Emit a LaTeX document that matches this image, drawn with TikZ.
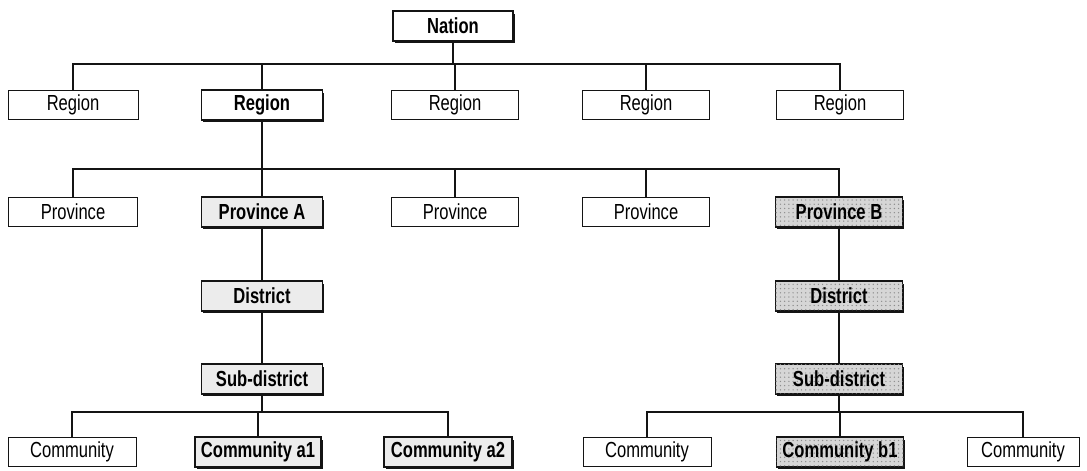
\documentclass[tikz,border=0pt]{standalone}
\usepackage{fontspec}
\setmainfont{Liberation Sans}[FakeStretch=0.76]
\usetikzlibrary{shadows,patterns}
\definecolor{ink}{RGB}{20,20,20}
\definecolor{haze}{RGB}{236,236,236}
\definecolor{stipple}{RGB}{214,214,214}
\tikzset{
  unit box/.style={draw=ink,fill=white,line width=0.7pt,
    minimum width=#1*0.025cm,minimum height=0.73cm,inner sep=1pt,
    font=\fontsize{15.5}{17}\selectfont},
  unit box/.default=127,
  key box/.style={unit box=#1,line width=1.3pt,font=\fontsize{15.5}{17}\selectfont\bfseries,
    drop shadow={shadow xshift=1.3pt,shadow yshift=-1.6pt,fill=ink,opacity=1}},
  key box/.default=121,
  a box/.style={key box=#1,fill=haze},
  a box/.default=121,
  b box/.style={key box=#1,fill=stipple,postaction={pattern=dots,pattern color=gray!90}},
  b box/.default=127,
  link/.style={draw=ink,line width=0.75pt},
}

\begin{document}
\begin{tikzpicture}[x=0.025cm,y=-0.025cm]
  \useasboundingbox (0,0) rectangle (1087,470);
  % bus levels
  \coordinate (bus1) at (0,64);
  \coordinate (bus2) at (0,169);
  \coordinate (bus3) at (0,412);

  % nation and regions
  \node[key box=120] (nation) at (453,26) {Nation};
  \node[unit box=130] (r1) at (73,105) {Region};
  \node[key box] (r2) at (262,105) {Region};
  \node[unit box] (r3) at (455,105) {Region};
  \node[unit box] (r4) at (646,105) {Region};
  \node[unit box] (r5) at (840,105) {Region};
  \foreach \c in {r1,r2,r3,r4,r5}
    \draw[link] (nation.south) -- (nation.south |- bus1) -| (\c.north);

  % provinces
  \node[unit box=129] (p1) at (73,212) {Province};
  \node[a box] (pa) at (262,212) {Province A};
  \node[unit box] (p3) at (455,212) {Province};
  \node[unit box] (p4) at (646,212) {Province};
  \node[b box] (pb) at (839,212) {Province B};
  \foreach \c in {p1,pa,p3,p4,pb}
    \draw[link] (r2.south) -- (r2.south |- bus2) -| (\c.north);

  % districts and sub-districts
  \node[a box] (da) at (262,296) {District};
  \node[a box] (sa) at (262,379) {Sub-district};
  \node[b box] (db) at (839,296) {District};
  \node[b box] (sb) at (839,379) {Sub-district};
  \draw[link] (pa) -- (da) -- (sa);
  \draw[link] (pb) -- (db) -- (sb);

  % communities
  \node[unit box=128] (c1) at (72,452) {Community};
  \node[a box=126] (ca1) at (258,452) {Community a1};
  \node[a box=128] (ca2) at (448,452) {Community a2};
  \node[unit box=128] (c4) at (647,452) {Community};
  \node[b box=127] (cb1) at (840,452) {Community b1};
  \node[unit box=112] (c6) at (1023,452) {Community};
  \foreach \c in {c1,ca1,ca2}
    \draw[link] (sa.south) -- (sa.south |- bus3) -| (\c.north);
  \foreach \c in {c4,cb1,c6}
    \draw[link] (sb.south) -- (sb.south |- bus3) -| (\c.north);
\end{tikzpicture}
\end{document}
